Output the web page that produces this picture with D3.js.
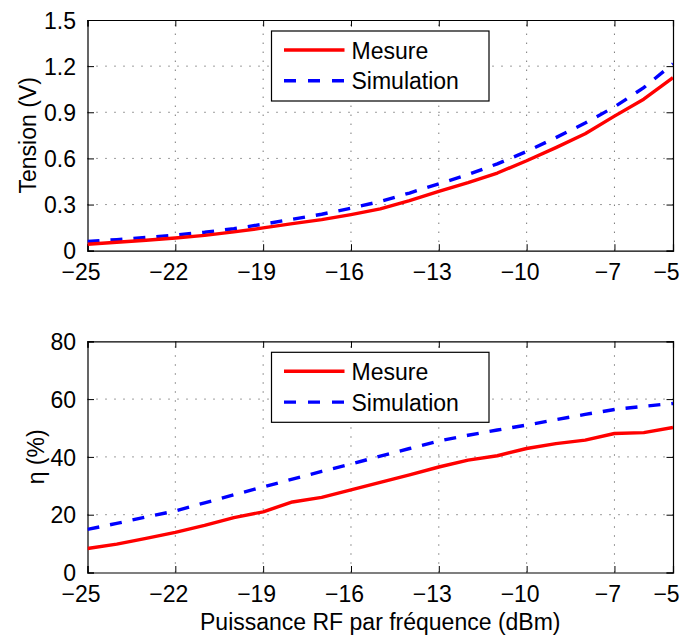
<!DOCTYPE html>
<html><head><meta charset="utf-8">
<script src="https://cdn.jsdelivr.net/npm/d3@7"></script>
<style>
body{margin:0;background:#fff;}
svg text{font-family:"Liberation Sans",Arial,Helvetica,sans-serif;fill:#000;}
</style></head>
<body><svg id="chart" width="680" height="638"></svg>
<script>
const powers = [-25,-24,-23,-22,-21,-20,-19,-18,-17,-16,-15,-14,-13,-12,-11,-10,-9,-8,-7,-6,-5];
const tensionMesure = [0.042,0.055,0.068,0.083,0.100,0.122,0.148,0.176,0.202,0.235,0.272,0.325,0.385,0.442,0.505,0.585,0.670,0.760,0.875,0.985,1.125];
const tensionSimulation = [0.060,0.072,0.086,0.102,0.120,0.143,0.172,0.205,0.237,0.276,0.320,0.375,0.435,0.495,0.565,0.645,0.735,0.830,0.935,1.060,1.215];
const rendementMesure = [8.3,9.8,11.8,13.9,16.3,19.0,21.0,24.4,26.0,28.6,31.2,33.8,36.5,38.9,40.4,42.9,44.6,45.8,48.1,48.4,50.2];
const rendementSimulation = [14.9,17.0,19.2,21.3,24.1,26.9,29.6,32.3,35.0,37.5,40.3,42.9,45.5,47.5,49.3,51.0,52.9,54.7,56.4,57.5,58.5];
const xTicks = [-25,-22,-19,-16,-13,-10,-7,-5];
const yTicksTop = [0,0.3,0.6,0.9,1.2,1.5];
const yTicksBottom = [0,20,40,60,80];
const seriesNames = ["Mesure","Simulation"];
const seriesColors = ["#ff0000","#0000ff"];
const labelTop = "Tension (V)";
const labelBottom = "\u03b7 (%)";
const labelX = "Puissance RF par fr\u00e9quence (dBm)";

const svg = d3.select("#chart");
const L = 87.5, R = 673, FS = 23;
const fmtX = d => (d < 0 ? "\u2212" + Math.abs(d) : String(d));

function panel(top, bottom, yDomain, yTicks, yFmt, ySeries, yLabel, yLabelX, id) {
  const x = d3.scaleLinear().domain([-25,-5]).range([L,R]);
  const y = d3.scaleLinear().domain(yDomain).range([bottom, top]);
  const g = svg.append("g");
  svg.append("clipPath").attr("id", id).append("rect")
    .attr("x", L).attr("y", top).attr("width", R-L).attr("height", bottom-top);
  const grid = g.append("g").attr("stroke","#000").attr("stroke-width",0.9)
    .attr("stroke-dasharray","1,8").attr("opacity",0.85);
  xTicks.slice(1,-1).forEach(t => grid.append("line")
    .attr("x1", x(t)).attr("x2", x(t)).attr("y1", bottom).attr("y2", top));
  yTicks.slice(1,-1).forEach(t => grid.append("line")
    .attr("x1", L).attr("x2", R).attr("y1", y(t)).attr("y2", y(t)));
  const tl = 6.5;
  const axB = g.append("g").attr("transform",`translate(0,${bottom})`)
    .call(d3.axisBottom(x).tickValues(xTicks).tickSize(-tl).tickFormat(fmtX).tickPadding(17));
  const axT = g.append("g").attr("transform",`translate(0,${top})`)
    .call(d3.axisTop(x).tickValues(xTicks).tickSize(-tl).tickFormat(""));
  const axL = g.append("g").attr("transform",`translate(${L},0)`)
    .call(d3.axisLeft(y).tickValues(yTicks).tickSize(-tl).tickFormat(yFmt).tickPadding(11.5));
  const axRt = g.append("g").attr("transform",`translate(${R},0)`)
    .call(d3.axisRight(y).tickValues(yTicks).tickSize(-tl).tickFormat(""));
  [axB,axT,axL,axRt].forEach(a => {
    a.select(".domain").attr("stroke","#000").attr("stroke-width",1.2);
    a.selectAll(".tick line").attr("stroke","#000").attr("stroke-width",1);
    a.selectAll("text").attr("font-size",FS).attr("font-family","Liberation Sans, Arial, sans-serif").attr("fill","#000");
  });
  axB.selectAll("text").attr("dx", -7).attr("dy","0.55em");
  axL.selectAll("text").attr("dy","0.36em");
  const line = d3.line().x((d,i) => x(powers[i])).y(d => y(d));
  const lg = g.append("g").attr("clip-path",`url(#${id})`);
  lg.append("path").datum(ySeries[1]).attr("d", line).attr("fill","none")
    .attr("stroke", seriesColors[1]).attr("stroke-width",3.4).attr("stroke-dasharray","12,11");
  lg.append("path").datum(ySeries[0]).attr("d", line).attr("fill","none")
    .attr("stroke", seriesColors[0]).attr("stroke-width",3.4).attr("stroke-linejoin","round");
  const lgx = 271.5, lgy = top + 11, lgw = 217.5, lgh = 70;
  const leg = g.append("g");
  leg.append("rect").attr("x",lgx).attr("y",lgy).attr("width",lgw).attr("height",lgh)
    .attr("fill","#fff").attr("stroke","#000").attr("stroke-width",1.2);
  seriesNames.forEach((n,i) => {
    const yy = lgy + 19 + i*30.8;
    leg.append("line").attr("x1", lgx+12.5).attr("x2", lgx+73).attr("y1", yy).attr("y2", yy)
      .attr("stroke", seriesColors[i]).attr("stroke-width",3.4)
      .attr("stroke-dasharray", i === 1 ? "12,12" : null);
    leg.append("text").attr("x", lgx+80).attr("y", yy+8.5).attr("font-size",FS).text(n);
  });
  g.append("text").attr("transform",`translate(${yLabelX},${(top+bottom)/2}) rotate(-90)`)
    .attr("text-anchor","middle").attr("font-size",FS).text(yLabel);
  return {x,y};
}

panel(20, 250.7, [0,1.5], yTicksTop, d => d === 0 ? "0" : d3.format(".1f")(d),
  [tensionMesure, tensionSimulation], labelTop, 35.5, "c1");
panel(341.3, 572.5, [0,80], yTicksBottom, d => String(d),
  [rendementMesure, rendementSimulation], labelBottom, 43.5, "c2");

svg.append("text").attr("x", (L+R)/2).attr("y", 630).attr("text-anchor","middle")
  .attr("font-size",FS).text(labelX);
</script></body></html>
